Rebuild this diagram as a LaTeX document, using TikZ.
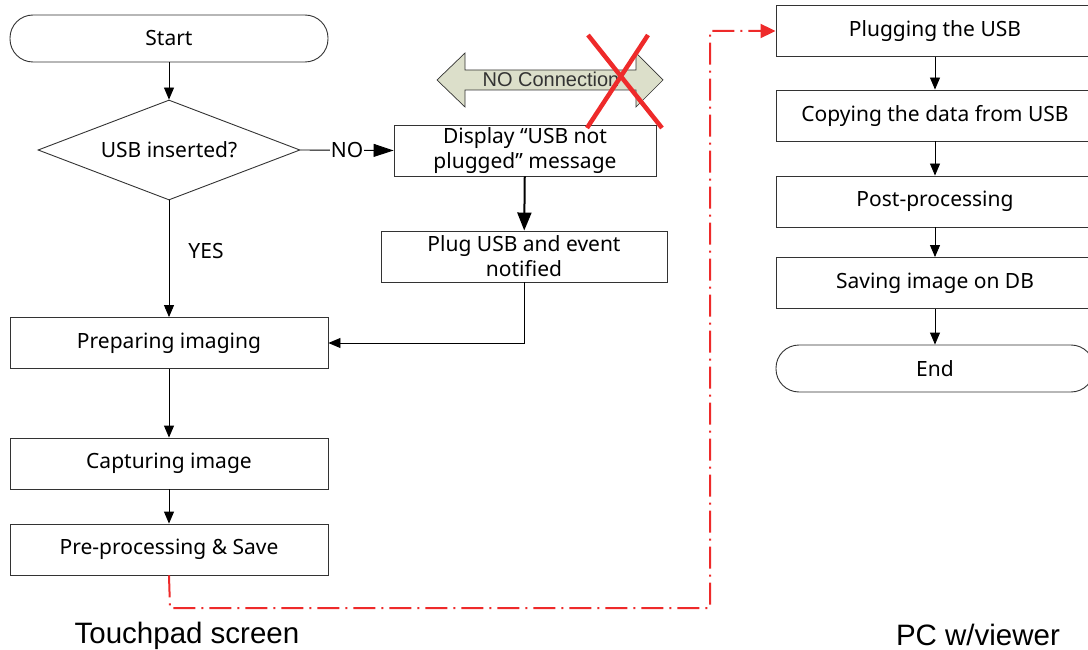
\documentclass[tikz,border=0pt]{standalone}
\usepackage{fontspec}
\setmainfont{Noto Sans}
\newfontfamily\arialf{Liberation Sans}
\usetikzlibrary{shapes.geometric,arrows.meta}
\definecolor{lnc}{HTML}{333333}
\definecolor{redx}{HTML}{EE2A2A}
\definecolor{arrfill}{HTML}{DCDFCA}
\tikzset{
  box/.style={draw=lnc, line width=0.9pt, rectangle, minimum width=318pt, minimum height=51pt, inner sep=1pt, align=center, font=\fontsize{21}{25}\selectfont},
  term/.style={box, rounded corners=23pt, minimum height=47pt},
  decision/.style={draw=lnc, line width=0.9pt, diamond, aspect=2.62, minimum width=262pt, minimum height=100pt, inner sep=0pt, font=\fontsize{21}{25}\selectfont},
  flow/.style={draw=black, line width=0.9pt, -{Triangle[length=12pt,width=10pt]}},
  lbl/.style={font=\fontsize{21}{25}\selectfont, inner sep=1pt},
  reddash/.style={draw=redx, line width=2pt, dash pattern=on 22pt off 6pt on 2pt off 6pt, -{Triangle[length=15pt,width=14pt]}},
  captext/.style={font=\arialf\fontsize{29.5}{33}\selectfont, inner sep=0pt}
}
\begin{document}
\begin{tikzpicture}[x=1pt,y=-1pt]
\useasboundingbox (0,0) rectangle (1088,650);
% left column
\node[term] (start) at (169,38.5) {Start};
\node[decision] (dec) at (169,150) {USB inserted?};
\node[box, minimum width=262pt] (disp) at (525,150.5) {Display “USB not\\plugged” message};
\node[box, minimum width=286pt] (plugev) at (524,256.5) {Plug USB and event\\notified};
\node[box] (prep) at (169,343) {Preparing imaging};
\node[box] (capt) at (169,463.5) {Capturing image};
\node[box] (pre) at (169,549.5) {Pre-processing \& Save};
% right column
\node[box] (plug) at (935,31) {Plugging the USB};
\node[box] (copy) at (935,115.5) {Copying the data from USB};
\node[box] (post) at (935,201.5) {Post-processing};
\node[box] (save) at (935,283) {Saving image on DB};
\node[term] (end) at (935,368.5) {End};
% connectors left
\draw[flow] (start) -- (dec);
\draw[draw=black, line width=0.9pt, -{Triangle[length=20pt,width=13pt]}] (dec.east) -- node[lbl, fill=white] (nolbl) {NO} (disp.west);
\draw[draw=black, line width=2pt, -{Triangle[length=18pt,width=14pt]}] (disp) -- (plugev);
\draw[flow] (dec.south) -- node[lbl, pos=0.43, right=18pt] (yeslbl) {YES} (prep.north);
\draw[flow] (plugev.south) |- (prep.east);
\draw[flow] (prep) -- (capt);
\draw[flow] (capt) -- (pre);
% connectors right
\draw[flow] (plug) -- (copy);
\draw[flow] (copy) -- (post);
\draw[flow] (post) -- (save);
\draw[flow] (save) -- (end);
% red dash-dot link
\coordinate (r1) at (170,608);
\coordinate (r2) at (710,608);
\coordinate (r3) at (710,31);
\draw[reddash] (pre.south) -- (r1) -- (r2) -- (r3) -- (plug.west);
% NO Connection double arrow
\draw[draw=lnc, line width=0.7pt, fill=arrfill] (437,80) -- (465,53) -- (465,70) -- (636,70) -- (636,53) -- (663,80) -- (636,107) -- (636,90) -- (465,90) -- (465,107) -- cycle;
\node[font=\arialf\fontsize{20}{22}\selectfont, text=black!80, inner sep=0pt] (nocon) at (551,79) {NO Connection};
% red X
\draw[redx, line width=4.5pt] (588,35) -- (662,128);
\draw[redx, line width=4.5pt] (648,35) -- (587,128);
% captions
\node[captext] (tp) at (187,636) {Touchpad screen};
\node[captext] (pc) at (978,635) {PC w/viewer};
\end{tikzpicture}
\end{document}
